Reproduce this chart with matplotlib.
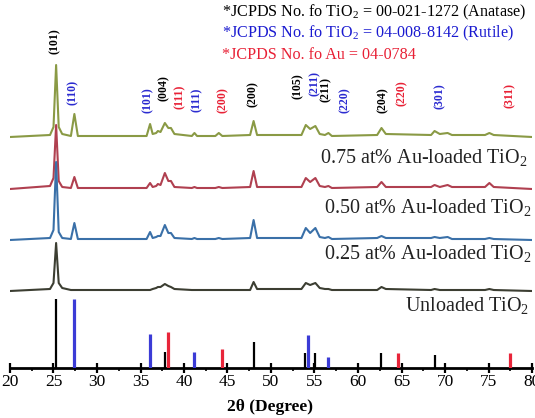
import matplotlib
matplotlib.use("Agg")
import matplotlib.pyplot as plt
from matplotlib.ticker import MultipleLocator

plt.rcParams['font.family'] = ['Liberation Serif', 'DejaVu Serif']
plt.rcParams['mathtext.default'] = 'regular'

# ---------------- data ----------------
theta = [20, 24.6, 25.0, 25.3, 25.6, 26.0, 27.0, 27.4, 27.8, 35.7, 36.1, 36.4, 36.8, 37.0,
         37.3, 37.8, 38.2, 38.5, 38.9, 40.9, 41.2, 41.5, 43.6, 44.0, 44.4, 47.6, 48.0, 48.4,
         53.5, 54.0, 54.5, 55.1, 55.6, 56.2, 56.6, 57.0, 62.2, 62.7, 63.2, 68.4, 68.8, 69.4,
         70.3, 70.8, 74.6, 75.1, 75.6, 80]

int_075 = [0, 2, 10, 72, 10, 3, 1, 23, 1, 1, 13, 3, 4, 6, 5, 14, 9, 9, 3, 1, 4, 1, 1, 4, 1,
           2, 16, 2, 2, 12, 8, 11, 3, 2, 4, 1, 2, 9, 3, 2, 6, 3, 4, 2, 2, 4, 2, 0]
int_050 = [0, 3, 11, 64, 8, 2, 1, 12, 1, 1, 6, 2, 3, 5, 4, 16, 8, 8, 2, 1, 2, 1, 1, 2, 1,
           2, 18, 2, 2, 11, 7, 11, 3, 2, 3, 1, 2, 7, 2, 2, 4, 2, 4, 2, 2, 6, 2, 0]
int_025 = [0, 2, 10, 78, 8, 2, 1, 17, 1, 1, 8, 2, 3, 4, 4, 15, 7, 7, 2, 1, 2, 1, 1, 2, 1,
           2, 20, 2, 2, 12, 7, 12, 3, 2, 3, 1, 2, 4, 2, 2, 3, 2, 3, 1, 1, 2, 1, 0]
int_000 = [0, 2, 8, 48, 8, 3, 1, 1, 1, 1, 1, 2, 3, 4, 4, 7, 5, 4, 2, 1, 1, 1, 1, 1, 1,
           1, 9, 2, 2, 8, 6, 8, 3, 2, 2, 1, 1, 4, 2, 1, 2, 1, 1, 1, 1, 2, 1, 0]

sample_names = ["0.75 at% Au-loaded TiO$_2$", "0.50 at% Au-loaded TiO$_2$",
                "0.25 at% Au-loaded TiO$_2$", "Unloaded TiO$_2$"]

# reference (JCPDS) lines
anatase_pos = [25.3, 37.8, 48.0, 53.9, 55.1, 62.7, 68.8]
anatase_int = [69, 16, 26, 15, 15, 15, 13]
rutile_pos = [27.4, 36.1, 41.2, 54.3, 56.6]
rutile_int = [69, 34, 16, 33, 11]
au_pos = [38.2, 44.4, 64.6, 77.5]
au_int = [36, 19, 15, 15]

# peak labels
hkl_labels = ["(101)", "(110)", "(101)", "(004)", "(111)", "(111)", "(200)", "(200)",
              "(105)", "(211)", "(211)", "(220)", "(204)", "(220)", "(301)", "(311)"]
hkl_phase = ["A", "R", "R", "A", "Au", "R", "Au", "A", "A", "R", "A", "R", "A", "Au", "R", "Au"]

jcpds_lines = ["*JCPDS No. fo TiO$_2$ = 00-021-1272 (Anatase)",
               "*JCPDS No. fo TiO$_2$ = 04-008-8142 (Rutile)",
               "*JCPDS No. fo Au = 04-0784"]

xticks = [20, 25, 30, 35, 40, 45, 50, 55, 60, 65, 70, 75, 80]

# ---------------- style / layout ----------------
c_green = "#8a9a45"
c_red = "#b04050"
c_blue = "#3a70a8"
c_black = "#3c3e32"
ph_color = {"A": "black", "R": "#2a2ad0", "Au": "#e82035"}

fig = plt.figure(figsize=(5.35, 4.18), dpi=100)
ax = fig.add_axes([10 / 535, 1 - 368 / 418, 522 / 535, 368 / 418])
ax.set_xlim(20, 80)
ax.set_ylim(0, 368)

offsets = [231, 179, 128, 77]
series = [int_075, int_050, int_025, int_000]
colors = [c_green, c_red, c_blue, c_black]
zorders = [2, 3, 4, 5]
for s, off, col, z in zip(series, offsets, colors, zorders):
    ax.plot(theta, [v + off for v in s], color=col, lw=1.5, zorder=z)

ax.vlines(anatase_pos, 0, anatase_int, color="black", lw=1.6, zorder=3)
ax.vlines(rutile_pos, 0, rutile_int, color="#3b3bd6", lw=2.3, zorder=3)
ax.vlines(au_pos, 0, au_int, color="#e8253a", lw=2.3, zorder=3)

# sample labels
label_pos = [(0.991, 368 - 157), (0.999, 368 - 207), (0.999, 368 - 254), (0.995, 368 - 305)]
for name, (lx, ly) in zip(sample_names, label_pos):
    ax.text(lx, ly, name, transform=ax.get_yaxis_transform(), ha="right", va="center",
            fontsize=14.5, color="#222222")

# hkl labels (positions in pixel coordinates of the figure area)
hkl_xy = [(55, 41), (73, 92), (148, 100), (164, 88), (180, 97), (197, 100), (223, 100),
          (253, 94), (298, 86), (315, 83), (326, 90), (345, 100), (383, 100), (402, 93),
          (440, 96), (510, 96)]
for lab, ph, (px, py) in zip(hkl_labels, hkl_phase, hkl_xy):
    ax.text(20 + (px - 10) / 8.7, 368 - py, lab, rotation=90, ha="center", va="center",
            fontsize=8.5, fontweight="bold", color=ph_color[ph])

# JCPDS legend text
jc_colors = ["black", "#1a1ad0", "#e82035"]
for i, (t, c) in enumerate(zip(jcpds_lines, jc_colors)):
    ax.text(44.35, 368 - [12, 33, 55][i], t, ha="left", va="center", fontsize=11.6, color=c)

# axes styling
for sp in ["left", "right", "top"]:
    ax.spines[sp].set_visible(False)
ax.spines["bottom"].set_linewidth(2.0)
ax.set_yticks([])
ax.set_xticks(xticks)
ax.xaxis.set_minor_locator(MultipleLocator(2.5))
ax.tick_params(axis="x", which="major", direction="inout", length=7, width=1.6,
               labelsize=12.5, pad=0.5)
ax.tick_params(axis="x", which="minor", direction="out", length=2.5, width=1.2)
ax.set_xlabel("2θ (Degree)", fontsize=12.5, fontweight="bold")
ax.xaxis.set_label_coords(0.498, -0.084)
ax.xaxis.label.set_va("top")
ax.patch.set_alpha(0)

fig.savefig("out.png", dpi=100)
